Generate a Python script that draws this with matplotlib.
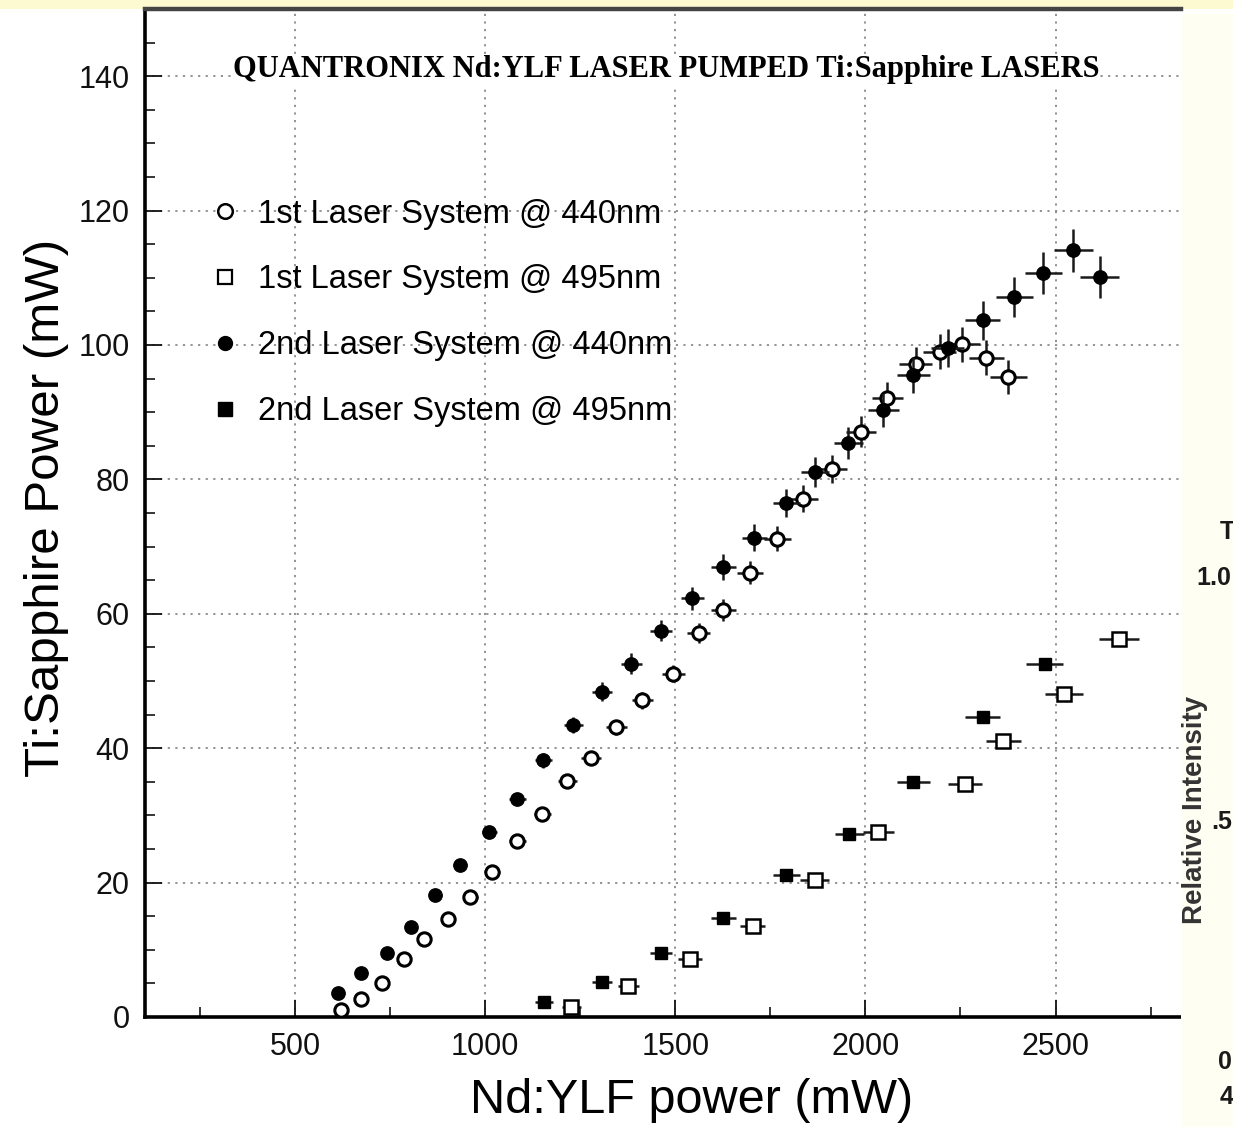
import matplotlib
matplotlib.use('Agg')
import matplotlib.pyplot as plt
from matplotlib.ticker import MultipleLocator
from matplotlib.patches import Rectangle
from matplotlib.lines import Line2D

plt.rcParams['font.family'] = ['Liberation Sans', 'DejaVu Sans']

# ---- data ----
# 1st laser system @ 440 nm (open circles)
sys1_440_x = [621, 674, 729, 787, 839, 903, 961, 1018, 1084, 1150, 1216, 1279, 1345, 1413,
              1495, 1561, 1626, 1697, 1768, 1837, 1913, 1989, 2058, 2132, 2195, 2255, 2318, 2376]
sys1_440_y = [1.0, 2.7, 5.1, 8.6, 11.6, 14.6, 17.8, 21.6, 26.2, 30.2, 35.1, 38.6, 43.1, 47.1,
              51.1, 57.1, 60.6, 66.1, 71.2, 77.1, 81.6, 87.1, 92.1, 97.2, 99.0, 100.1, 98.1, 95.2]
sys1_440_xerr = [12, 13, 15, 16, 17, 18, 19, 20, 22, 23, 24, 26, 27, 28,
                 30, 31, 33, 34, 35, 37, 38, 40, 41, 43, 44, 45, 46, 48]
sys1_440_yerr = [0.1, 0.1, 0.2, 0.3, 0.3, 0.4, 0.5, 0.6, 0.7, 0.8, 0.9, 1.0, 1.1, 1.2,
                 1.3, 1.5, 1.6, 1.7, 1.8, 2.0, 2.1, 2.3, 2.4, 2.5, 2.6, 2.6, 2.6, 2.5]

# 1st laser system @ 495 nm (open squares)
sys1_495_x = [1226, 1376, 1539, 1703, 1866, 2034, 2261, 2363, 2521, 2666]
sys1_495_y = [1.5, 4.6, 8.6, 13.5, 20.4, 27.5, 34.6, 41.0, 48.1, 56.2]
sys1_495_xerr = [25, 28, 31, 34, 37, 41, 45, 47, 50, 53]
sys1_495_yerr = [0.2, 0.2, 0.3, 0.3, 0.4, 0.4, 0.5, 0.5, 0.6, 0.6]

# 2nd laser system @ 440 nm (filled circles)
sys2_440_x = [613, 674, 742, 805, 868, 934, 1011, 1084, 1153, 1232, 1308, 1384, 1463, 1545,
              1626, 1708, 1792, 1868, 1955, 2047, 2126, 2216, 2308, 2392, 2468, 2547, 2616]
sys2_440_y = [3.6, 6.5, 9.5, 13.4, 18.1, 22.6, 27.5, 32.5, 38.2, 43.5, 48.4, 52.6, 57.5, 62.3,
              67.0, 71.3, 76.5, 81.1, 85.4, 90.3, 95.5, 99.6, 103.7, 107.1, 110.7, 114.1, 110.1]
sys2_440_xerr = [12, 13, 15, 16, 17, 19, 20, 22, 23, 25, 26, 28, 29, 31,
                 33, 34, 36, 37, 39, 41, 43, 44, 46, 48, 49, 51, 52]
sys2_440_yerr = [0.1, 0.2, 0.3, 0.4, 0.5, 0.6, 0.8, 0.9, 1.1, 1.2, 1.4, 1.5, 1.6, 1.7,
                 1.9, 2.0, 2.1, 2.3, 2.4, 2.5, 2.7, 2.8, 2.9, 3.0, 3.1, 3.2, 3.1]

# 2nd laser system @ 495 nm (filled squares)
sys2_495_x = [1155, 1308, 1463, 1626, 1792, 1958, 2126, 2308, 2471]
sys2_495_y = [2.2, 5.2, 9.5, 14.7, 21.2, 27.3, 34.9, 44.6, 52.5]
sys2_495_xerr = [23, 26, 29, 33, 36, 39, 43, 46, 49]
sys2_495_yerr = [0.2, 0.2, 0.3, 0.3, 0.4, 0.4, 0.5, 0.5, 0.6]

labels = ["1st Laser System @ 440nm", "1st Laser System @ 495nm",
          "2nd Laser System @ 440nm", "2nd Laser System @ 495nm"]
title = "QUANTRONIX Nd:YLF LASER PUMPED Ti:Sapphire LASERS"
xlabel = "Nd:YLF power (mW)"
ylabel = "Ti:Sapphire Power (mW)"

# ---- figure ----
W, H = 1233, 1127
fig = plt.figure(figsize=(W / 100, H / 100), dpi=100)
fig.patch.set_facecolor('white')

# pale yellow band at top and overlapping slide panel on the right
fig.add_artist(Rectangle((0, 1 - 9 / H), 1, 9 / H, transform=fig.transFigure,
                         facecolor='#fdfad2', edgecolor='none', zorder=0))
fig.add_artist(Rectangle((1181 / W, 0), (W - 1181) / W, 1 - 14 / H, transform=fig.transFigure,
                         facecolor='#fffef3', edgecolor='none', zorder=5))

ax = fig.add_axes([145 / W, 1 - 1017 / H, (1181 - 145) / W, (1017 - 9) / H])
ax.set_xlim(105, 2830)
ax.set_ylim(0, 150)

ecol = '#1a1a1a'
common = dict(linestyle='none', ecolor=ecol, elinewidth=1.8, capsize=0, mec='black')
ax.errorbar(sys1_440_x, sys1_440_y, xerr=sys1_440_xerr, yerr=sys1_440_yerr, marker='o',
            ms=9.6, mfc='white', mew=2.2, zorder=3, **common)
ax.errorbar(sys1_495_x, sys1_495_y, xerr=sys1_495_xerr, yerr=sys1_495_yerr, marker='s',
            ms=9.6, mfc='white', mew=1.8, zorder=3, **common)
ax.errorbar(sys2_440_x, sys2_440_y, xerr=sys2_440_xerr, yerr=sys2_440_yerr, marker='o',
            ms=9.6, mfc='black', mew=1.0, zorder=4, **common)
ax.errorbar(sys2_495_x, sys2_495_y, xerr=sys2_495_xerr, yerr=sys2_495_yerr, marker='s',
            ms=9.0, mfc='black', mew=1.0, zorder=4, **common)

# ticks / grid
ax.xaxis.set_major_locator(MultipleLocator(500))
ax.xaxis.set_minor_locator(MultipleLocator(250))
ax.yaxis.set_major_locator(MultipleLocator(20))
ax.yaxis.set_minor_locator(MultipleLocator(5))
ax.tick_params(which='major', direction='in', length=12, width=1.3, labelsize=22, pad=11,
               colors='#111111', top=False, right=False)
ax.tick_params(which='minor', direction='in', length=7, width=1.1, top=False, right=False)
ax.grid(True, which='major', linestyle=(0, (1.2, 3)), color='#8a8a8a', linewidth=1.3)
ax.set_axisbelow(True)

for s in ('left', 'bottom'):
    ax.spines[s].set_linewidth(2.6)
    ax.spines[s].set_color('black')
ax.spines['top'].set_linewidth(3.2)
ax.spines['top'].set_color('#444444')
ax.spines['right'].set_visible(False)

ax.set_xlabel(xlabel, fontsize=35)
ax.xaxis.set_label_coords(0.528, -0.061)
ax.set_ylabel(ylabel, fontsize=35.5)
ax.yaxis.set_label_coords(-0.073, 0.505)

ax.text(1475, 141, title, ha='center', va='center', fontsize=22,
        fontfamily='Liberation Serif', fontweight='bold', zorder=6,
        bbox=dict(facecolor='white', edgecolor='none', pad=0.5))

handles = [
    Line2D([], [], linestyle='none', marker='o', ms=10.5, mfc='white', mec='black', mew=1.8),
    Line2D([], [], linestyle='none', marker='s', ms=10.5, mfc='white', mec='black', mew=1.6),
    Line2D([], [], linestyle='none', marker='o', ms=10.0, mfc='black', mec='black', mew=1.0),
    Line2D([], [], linestyle='none', marker='s', ms=9.5, mfc='black', mec='black', mew=1.0),
]
leg = ax.legend(handles, labels, loc='upper left', bbox_to_anchor=(0.061, 0.812),
                frameon=False, fontsize=23.5, handlelength=1.0, handletextpad=0.53,
                labelspacing=1.07, borderpad=0, borderaxespad=0)

# partially visible neighbouring plot on the right edge
txt = dict(fontweight='bold', ha='left', va='center', zorder=6, color='#1a1a1a')
fig.text(1220 / W, 1 - 532 / H, "T", fontsize=18, **txt)
fig.text(1196 / W, 1 - 578 / H, "1.0", fontsize=18, **txt)
fig.text(1211 / W, 1 - 822 / H, ".5", fontsize=18, **txt)
fig.text(1218 / W, 1 - 1062 / H, "0", fontsize=18, **txt)
fig.text(1220 / W, 1 - 1097 / H, "4", fontsize=18, **txt)
fig.text(1195 / W, 1 - 810 / H, "Relative Intensity", fontsize=20, fontweight='bold',
         rotation=90, ha='center', va='center', color='#333333', zorder=6)

fig.savefig('out.png', dpi=100, facecolor=fig.get_facecolor())
